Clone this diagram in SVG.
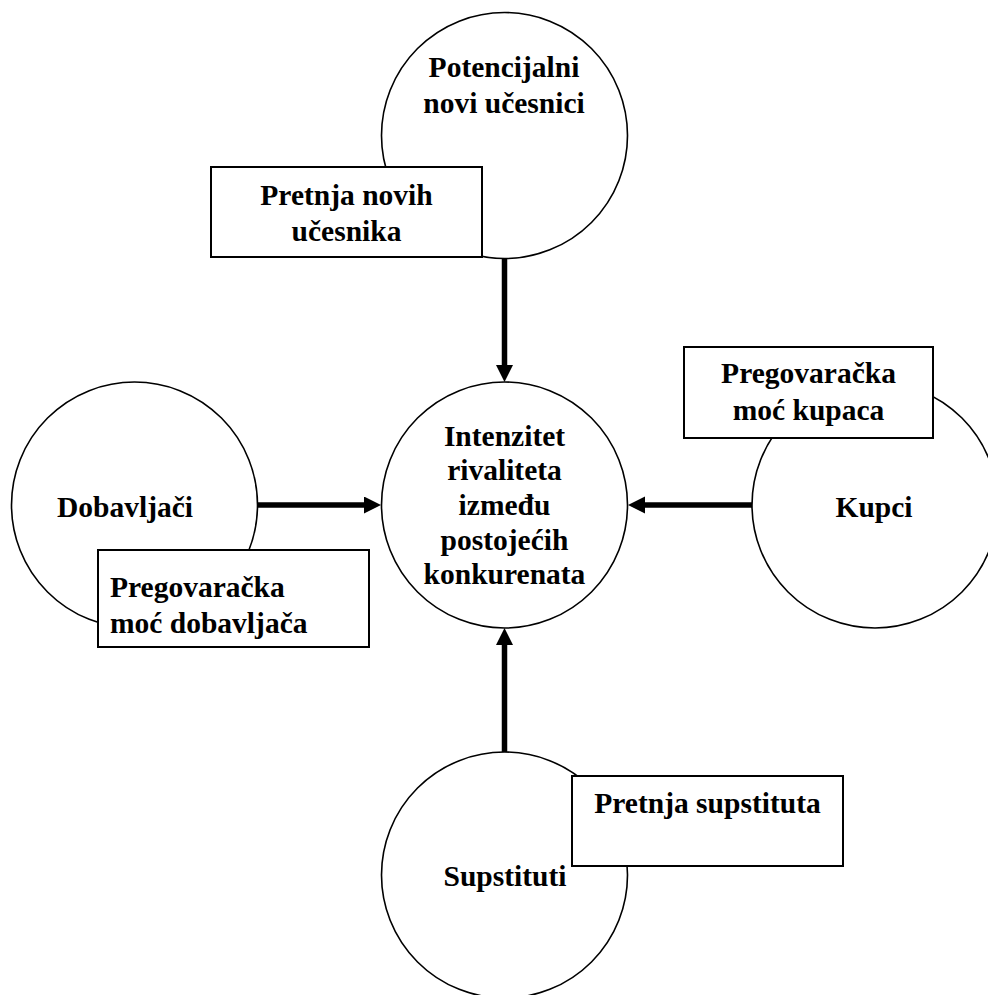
<svg xmlns="http://www.w3.org/2000/svg" width="988" height="995" viewBox="0 0 988 995">
  <style>
    .circ { fill: #ffffff; stroke: #000000; stroke-width: 1.6; }
    .box { fill: #ffffff; stroke: #000000; stroke-width: 2; }
    .lbl { font-family: "Liberation Serif", "Times New Roman", serif; font-weight: bold; font-size: 29.5px; fill: #000000; }
    .mid { text-anchor: middle; }
    .conn { stroke: #000000; stroke-width: 5.5; fill: none; }
  </style>
  <defs>
    <marker id="head" markerUnits="userSpaceOnUse" markerWidth="18" markerHeight="18" refX="0" refY="8.5" orient="auto">
      <path d="M0,0 L17,8.5 L0,17 Z" fill="#000000"/>
    </marker>
  </defs>
  <rect x="0" y="0" width="988" height="995" fill="#ffffff"/>

  <!-- Central force -->
  <g id="rivalry">
    <circle class="circ" cx="504.5" cy="505" r="123"/>
    <text class="lbl mid" x="504.5" y="446">Intenzitet</text>
    <text class="lbl mid" x="504.5" y="480">rivaliteta</text>
    <text class="lbl mid" x="504.5" y="515">između</text>
    <text class="lbl mid" x="504.5" y="550">postojećih</text>
    <text class="lbl mid" x="504.5" y="584">konkurenata</text>
  </g>

  <!-- New entrants (top) -->
  <g id="entrants">
    <circle class="circ" cx="504.5" cy="135.5" r="123"/>
    <text class="lbl mid" x="504" y="77">Potencijalni</text>
    <text class="lbl mid" x="504" y="113">novi učesnici</text>
  </g>
  <g id="entrants-threat">
    <rect class="box" x="211" y="167" width="271" height="90"/>
    <text class="lbl mid" x="346.5" y="205">Pretnja novih</text>
    <text class="lbl mid" x="346.5" y="241">učesnika</text>
  </g>

  <!-- Suppliers (left) -->
  <g id="suppliers">
    <circle class="circ" cx="134.5" cy="505" r="123"/>
    <text class="lbl mid" x="125" y="517">Dobavljači</text>
  </g>
  <g id="suppliers-power">
    <rect class="box" x="98" y="550" width="271" height="97"/>
    <text class="lbl" x="110" y="597">Pregovaračka</text>
    <text class="lbl" x="110" y="633">moć dobavljača</text>
  </g>

  <!-- Buyers (right) -->
  <g id="buyers">
    <circle class="circ" cx="875" cy="505" r="123"/>
    <text class="lbl mid" x="874" y="517">Kupci</text>
  </g>
  <g id="buyers-power">
    <rect class="box" x="684" y="347" width="249" height="91"/>
    <text class="lbl mid" x="808.5" y="383">Pregovaračka</text>
    <text class="lbl mid" x="808.5" y="420">moć kupaca</text>
  </g>

  <!-- Substitutes (bottom) -->
  <g id="substitutes">
    <circle class="circ" cx="504.5" cy="875" r="123"/>
    <text class="lbl mid" x="505" y="886">Supstituti</text>
  </g>
  <g id="substitutes-threat">
    <rect class="box" x="572" y="776" width="271" height="90"/>
    <text class="lbl mid" x="707.5" y="813">Pretnja supstituta</text>
  </g>

  <!-- Connectors -->
  <g id="connectors">
    <line class="conn" x1="504.5" y1="258" x2="504.5" y2="365" marker-end="url(#head)"/>
    <line class="conn" x1="257.5" y1="505" x2="364" y2="505" marker-end="url(#head)"/>
    <line class="conn" x1="752" y1="505" x2="645" y2="505" marker-end="url(#head)"/>
    <line class="conn" x1="504.5" y1="752" x2="504.5" y2="645" marker-end="url(#head)"/>
  </g>
</svg>
